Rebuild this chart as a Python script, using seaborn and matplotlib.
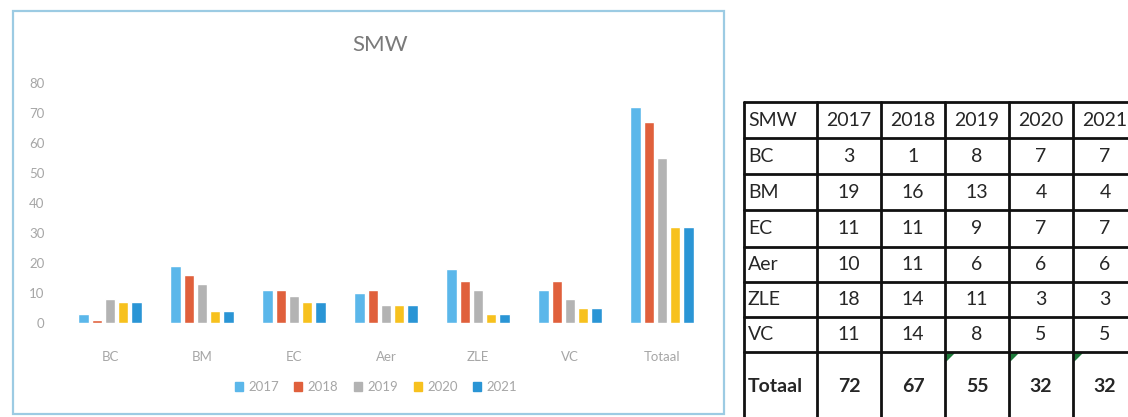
import matplotlib.pyplot as plt
import matplotlib.patches as mpatches
import seaborn as sns
import pandas as pd

categories = ['BC', 'BM', 'EC', 'Aer', 'ZLE', 'VC', 'Totaal']
years = ['2017', '2018', '2019', '2020', '2021']
v2017 = [3, 19, 11, 10, 18, 11, 72]
v2018 = [1, 16, 11, 11, 14, 14, 67]
v2019 = [8, 13, 9, 6, 11, 8, 55]
v2020 = [7, 4, 7, 6, 3, 5, 32]
v2021 = [7, 4, 7, 6, 3, 5, 32]
colors = ['#5bb7ea', '#e0603c', '#b3b3b3', '#f7c11e', '#2a95d5']

series = [v2017, v2018, v2019, v2020, v2021]
df = pd.DataFrame({
    'cat': [c for s in series for c in categories],
    'year': [y for y in years for _ in categories],
    'value': [v for s in series for v in s],
})

sns.set_style('white')
plt.rcParams['font.family'] = ['Lato', 'DejaVu Sans']

fig = plt.figure(figsize=(11.28, 4.17), dpi=100)
W, H = 1128, 417

# chart
ax = fig.add_axes([64 / W, (H - 323) / H, 644 / W, 240 / H])
sns.barplot(data=df, x='cat', y='value', hue='year', palette=colors,
            width=0.72, gap=0.22, saturation=1, ax=ax, legend=False)
ax.set_ylim(0, 80)
ax.set_xlim(-0.5, 6.5)
ax.set_yticks(range(0, 81, 10))
ax.set_xlabel('')
ax.set_ylabel('')
sns.despine(ax=ax, left=True, bottom=True)
ax.tick_params(axis='both', length=0, colors='#a6a6a6', labelsize=9.5)
ax.tick_params(axis='x', pad=20)
ax.tick_params(axis='y', pad=14)

fig.text(380 / W, 1 - 45 / H, 'SMW', ha='center', va='center',
         fontsize=16, color='#7a7a7a')

handles = [mpatches.Patch(color=c, label=y) for c, y in zip(colors, years)]
fig.legend(handles=handles, loc='center', bbox_to_anchor=(376 / W, 1 - 387 / H),
           ncol=5, frameon=False, fontsize=9.5, handlelength=0.6, handleheight=0.6,
           handletextpad=0.4, columnspacing=1.2, labelcolor='#a6a6a6')

box = mpatches.Rectangle((13 / W, 1 - 414 / H), 711 / W, 403 / H,
                         transform=fig.transFigure, fill=False,
                         edgecolor='#9ccbe3', lw=1.6)
fig.add_artist(box)

# table
tx = fig.add_axes([0, 0, 1, 1])
tx.set_xlim(0, W)
tx.set_ylim(H, 0)
tx.axis('off')
tx.patch.set_alpha(0)

col_x = [744, 817, 881, 945, 1009, 1073, 1137]
row_y = [102, 138, 174, 210, 247, 282, 317, 352, 420]
for x in col_x:
    tx.plot([x, x], [row_y[0], row_y[-1]], color='#111111', lw=2)
for y in row_y[:-1]:
    tx.plot([col_x[0], col_x[-1]], [y, y], color='#111111', lw=2)

table_rows = [['SMW'] + years] + [
    [c] + [str(s[i]) for s in series] for i, c in enumerate(categories)]
for r, row in enumerate(table_rows):
    yc = (row_y[r] + row_y[r + 1]) / 2
    bold = 'bold' if row[0] == 'Totaal' else 'normal'
    tx.text(col_x[0] + 4, yc, row[0], ha='left', va='center',
            fontsize=14, fontweight=bold, color='#262626')
    for j, val in enumerate(row[1:]):
        xc = (col_x[j + 1] + col_x[j + 2]) / 2
        tx.text(xc, yc, val, ha='center', va='center',
                fontsize=14, fontweight=bold, color='#262626')

# green error markers
for x in col_x[3:6]:
    tri = mpatches.Polygon([[x + 1, row_y[7] + 1], [x + 9, row_y[7] + 1], [x + 1, row_y[7] + 9]],
                           closed=True, color='#1d7a3a')
    tx.add_patch(tri)

fig.savefig('out.png', dpi=100)
